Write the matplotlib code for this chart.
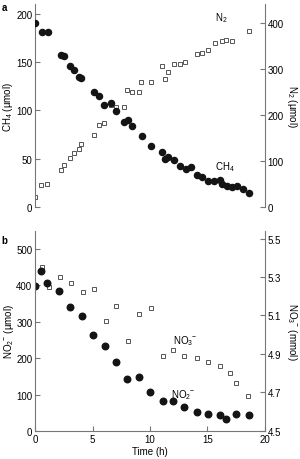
import numpy as np
import matplotlib
matplotlib.use("Agg")
from matplotlib import pyplot as plt

plt.rcParams['font.family'] = ['Liberation Sans', 'DejaVu Sans']
plt.rcParams['mathtext.fontset'] = 'custom'
plt.rcParams['mathtext.rm'] = 'Liberation Sans'
plt.rcParams['mathtext.it'] = 'Liberation Sans'

# panel a: methane and dinitrogen
t_ch4 = [0, 0.58, 1.1, 2.24, 2.53, 3.06, 3.35, 3.78, 4.0, 5.1, 5.6, 6.0, 6.6, 7.05,
         7.77, 8.06, 8.45, 9.28, 10.05, 11.07, 11.27, 11.6, 12.1, 12.6, 13.1, 13.6,
         14.1, 14.56, 15.08, 15.57, 16.1, 16.3, 16.7, 17.1, 17.6, 18.1, 18.6]
ch4 = [190, 181, 181, 157, 156, 146, 142, 135, 133, 119, 115, 106, 108, 99,
       88, 90, 84, 73, 63.5, 57, 50, 51.5, 48.7, 42, 39.4, 41,
       33.5, 31, 27.3, 26.6, 28, 24, 21.5, 20.4, 21.5, 18.6, 14.2]

t_n2 = [0, 0.52, 1.07, 2.24, 2.53, 3.06, 3.35, 3.78, 4.0, 5.1, 5.6, 6.03, 6.6,
        7.07, 7.75, 8.0, 8.45, 9.05, 9.25, 10.1, 11.07, 11.3, 11.6, 12.1, 12.6,
        13.05, 14.1, 14.56, 15.08, 15.63, 16.3, 16.65, 17.1, 18.6]
n2 = [21, 48, 50, 81, 92, 106, 117, 126, 136, 156, 177, 181, 221,
      216, 217, 254, 250, 250, 270, 272, 306, 277, 293, 310, 309,
      315, 331, 333, 340, 356, 360, 363, 360, 381]

# panel b: nitrite and nitrate
t_no2 = [0, 0.55, 1.02, 2.1, 3.07, 4.06, 5.03, 6.1, 7.08, 8.04, 9.06, 10.0,
         11.1, 12.04, 13.0, 14.1, 15.06, 16.05, 16.6, 17.5, 18.6]
no2 = [399, 439, 407, 385, 341, 315, 264, 234, 189, 143, 148, 108,
       83, 83, 67, 51, 47, 43, 33, 47, 45]

t_no3 = [0.64, 1.17, 2.19, 3.13, 4.15, 5.11, 6.14, 7.08, 8.1, 9.06, 10.09,
         11.1, 12.04, 13.0, 14.1, 15.06, 16.05, 17.0, 17.5, 18.5]
no3 = [5.35, 5.25, 5.30, 5.27, 5.22, 5.24, 5.07, 5.15, 4.97, 5.11, 5.14,
       4.89, 4.92, 4.89, 4.88, 4.86, 4.84, 4.80, 4.75, 4.68]

SPINE = "#777777"
DOT = "#141414"
SQ = "#555555"
FS = 7


def style(ax):
    for side in ["top", "bottom", "left", "right"]:
        ax.spines[side].set_visible(False)
    ax.tick_params(direction="in", length=3.5, width=0.8, color=SPINE,
                   labelsize=FS, pad=2)


def ylab(ax, text, x, rot):
    ax.set_ylabel(text, fontsize=FS, rotation=rot, ha="center", va="center",
                  rotation_mode="anchor")
    ax.yaxis.set_label_coords(x, 0.5)


fig = plt.figure(figsize=(3.0, 4.6), dpi=100)

# ---- panel a
ax = fig.add_axes([0.117, 0.548, 0.766, 0.441])
ax2 = ax.twinx()
ax.plot(t_ch4, ch4, "o", ms=4.4, color=DOT, mec=DOT, zorder=3)
ax2.plot(t_n2, n2, "s", ms=3.5, mfc="white", mec=SQ, mew=0.7)
ax.set_zorder(ax2.get_zorder() + 1)
ax.patch.set_visible(False)
ax.set_xlim(0, 20)
ax.set_ylim(0, 210)
ax2.set_ylim(0, 440)
ax.set_yticks([0, 50, 100, 150, 200])
ax2.set_yticks([0, 100, 200, 300, 400])
for a in (ax, ax2):
    style(a)
    a.set_xticks([])
ax.spines["left"].set_visible(True)
ax.spines["left"].set_color(SPINE)
ax2.spines["right"].set_visible(True)
ax2.spines["right"].set_color(SPINE)
ylab(ax, "CH$_4$ (µmol)", -0.12, 90)
ylab(ax2, "N$_2$ (µmol)", 1.12, 270)
ax.text(16.5, 42, "CH$_4$", fontsize=FS, ha="center", va="center")
ax2.text(16.2, 411, "N$_2$", fontsize=FS, ha="center", va="center")
fig.text(0.005, 0.993, "a", fontsize=7, fontweight="bold", va="top")

# ---- panel b
bx = fig.add_axes([0.117, 0.061, 0.766, 0.435])
bx2 = bx.twinx()
bx.plot(t_no2, no2, "o", ms=4.7, color=DOT, mec=DOT)
bx2.plot(t_no3, no3, "s", ms=3.0, mfc="white", mec=SQ, mew=0.7)
bx.set_zorder(bx2.get_zorder() + 1)
bx.patch.set_visible(False)
bx.set_xlim(0, 20)
bx.set_ylim(0, 550)
bx2.set_ylim(4.5, 5.54)
bx.set_xticks([0, 5, 10, 15, 20])
bx.set_yticks([0, 100, 200, 300, 400, 500])
bx2.set_yticks([4.5, 4.7, 4.9, 5.1, 5.3, 5.5])
for a in (bx, bx2):
    style(a)
bx.spines["left"].set_visible(True)
bx.spines["left"].set_color(SPINE)
bx.spines["bottom"].set_visible(True)
bx.spines["bottom"].set_color(SPINE)
bx2.spines["right"].set_visible(True)
bx2.spines["right"].set_color(SPINE)
ylab(bx, "NO$_2$$^{-}$ (µmol)", -0.115, 90)
ylab(bx2, "NO$_3$$^{-}$ (mmol)", 1.12, 270)
bx.set_xlabel("Time (h)", fontsize=FS, labelpad=2)
bx.text(12.9, 102, "NO$_2$$^{-}$", fontsize=FS, ha="center", va="center")
bx2.text(13.1, 4.97, "NO$_3$$^{-}$", fontsize=FS, ha="center", va="center")
fig.text(0.005, 0.487, "b", fontsize=7, fontweight="bold", va="top")

fig.savefig("out.png", dpi=100)
